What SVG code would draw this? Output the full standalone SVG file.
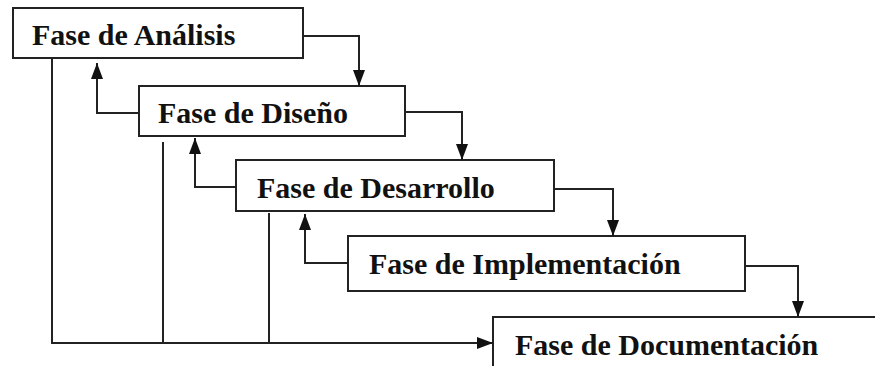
<svg xmlns="http://www.w3.org/2000/svg" width="875" height="366" viewBox="0 0 875 366">
<style>
.box{fill:#fff;stroke:#222;stroke-width:2}
.lbl{font-family:'Liberation Serif',serif;font-weight:700;font-size:30px;fill:#111}
.c{fill:none;stroke:#222;stroke-width:2}
</style>
<defs>
<marker id="ah" viewBox="0 0 16 12" refX="16" refY="6" markerWidth="16" markerHeight="12" markerUnits="userSpaceOnUse" orient="auto">
<path d="M0,0 L16,6 L0,12 Z" fill="#111"/>
</marker>
</defs>
<rect width="875" height="366" fill="#fff"/>
<g id="n1"><rect class="box" x="13" y="8" width="290" height="50"/><text class="lbl" x="32" y="45">Fase de Análisis</text></g>
<g id="n2"><rect class="box" x="139" y="86" width="266" height="50"/><text class="lbl" x="158" y="123">Fase de Diseño</text></g>
<g id="n3"><rect class="box" x="236" y="160" width="318" height="51"/><text class="lbl" x="257" y="198">Fase de Desarrollo</text></g>
<g id="n4"><rect class="box" x="348" y="236" width="397" height="55"/><text class="lbl" x="369" y="274">Fase de Implementación</text></g>
<g id="n5"><rect class="box" x="493" y="317" width="400" height="70"/><text class="lbl" x="515" y="355">Fase de Documentación</text></g>
<g id="connectors">
<path class="c" d="M303,36 H359 V86" marker-end="url(#ah)"/>
<path class="c" d="M405,112 H462 V160" marker-end="url(#ah)"/>
<path class="c" d="M554,189 H613 V236" marker-end="url(#ah)"/>
<path class="c" d="M745,266 H798 V317" marker-end="url(#ah)"/>
<path class="c" d="M139,113 H97 V63" marker-end="url(#ah)"/>
<path class="c" d="M236,187 H195 V138" marker-end="url(#ah)"/>
<path class="c" d="M348,263 H305 V214" marker-end="url(#ah)"/>
<path class="c" d="M52,58 V343 H493" marker-end="url(#ah)"/>
<path class="c" d="M163,142 V343"/>
<path class="c" d="M269,213 V343"/>
</g>
</svg>
